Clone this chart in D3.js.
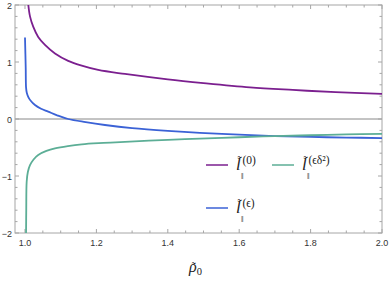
<!DOCTYPE html>
<html>
<head>
<meta charset="utf-8">
<script src="https://cdn.jsdelivr.net/npm/d3@7"></script>
<style>
  body { margin: 0; background: #fff; }
  .tick-label { font-family: "Liberation Sans", Arial, sans-serif; font-size: 9px; fill: #333; }
  .math { font-family: "Liberation Serif", "Times New Roman", serif; fill: #222; }
</style>
</head>
<body>
<div id="chart"></div>
<script>
// data
const rho0 = [1.0093, 1.014, 1.023, 1.037, 1.056, 1.084, 1.121, 1.159, 1.205, 1.28, 1.4, 1.5, 1.63, 1.75, 1.87, 2.0];
const l0   = [2.0, 1.80, 1.62, 1.44, 1.30, 1.15, 1.02, 0.935, 0.86, 0.79, 0.695, 0.63, 0.556, 0.51, 0.47, 0.44];

const rhoEps = [1.0, 1.002, 1.003, 1.005, 1.009, 1.016, 1.028, 1.045, 1.065, 1.09, 1.121, 1.17, 1.224, 1.3, 1.4, 1.49, 1.6, 1.7, 1.8, 1.9, 2.0];
const lEps   = [1.43, 0.9, 0.55, 0.46, 0.39, 0.32, 0.245, 0.18, 0.13, 0.065, 0.0, -0.055, -0.105, -0.16, -0.21, -0.245, -0.275, -0.30, -0.315, -0.325, -0.335];

const rhoEd2 = [1.003, 1.0035, 1.0047, 1.008, 1.014, 1.024, 1.037, 1.06, 1.084, 1.12, 1.159, 1.22, 1.28, 1.4, 1.49, 1.6, 1.7, 1.8, 1.9, 2.0];
const lEd2   = [-2.0, -1.6, -1.10, -0.93, -0.81, -0.71, -0.63, -0.56, -0.515, -0.475, -0.445, -0.42, -0.40, -0.365, -0.345, -0.32, -0.30, -0.285, -0.27, -0.26];

const xTicks = [1.0, 1.2, 1.4, 1.6, 1.8, 2.0];
const yTicks = [-2, -1, 0, 1, 2];

const width = 390, height = 281;
const m = { left: 15, right: 382, top: 5, bottom: 233 };

const svg = d3.select('#chart').append('svg')
  .attr('width', width)
  .attr('height', height);

const x = d3.scaleLinear().domain([0.972, 2.0]).range([m.left, m.right]);
const y = d3.scaleLinear().domain([-2, 2]).range([m.bottom, m.top]);

svg.append('clipPath').attr('id', 'clip')
  .append('rect')
  .attr('x', m.left).attr('y', m.top)
  .attr('width', m.right - m.left).attr('height', m.bottom - m.top);

// zero line
svg.append('line')
  .attr('x1', m.left).attr('x2', m.right)
  .attr('y1', y(0)).attr('y2', y(0))
  .attr('stroke', '#888').attr('stroke-width', 1);

// frame
svg.append('rect')
  .attr('x', m.left).attr('y', m.top)
  .attr('width', m.right - m.left).attr('height', m.bottom - m.top)
  .attr('fill', 'none').attr('stroke', '#a6a6a6').attr('stroke-width', 1);

const tickCol = '#a6a6a6';
const xMinor = d3.range(1.0, 2.0001, 0.05);
const yMinor = d3.range(-2, 2.0001, 0.2);

// x ticks, bottom and top, pointing inward
svg.append('g').selectAll('line').data(xMinor).join('line')
  .attr('x1', d => x(d)).attr('x2', d => x(d))
  .attr('y1', m.bottom).attr('y2', (d, i) => m.bottom - (i % 4 === 0 ? 4 : 2.5))
  .attr('stroke', tickCol);
svg.append('g').selectAll('line').data(xMinor).join('line')
  .attr('x1', d => x(d)).attr('x2', d => x(d))
  .attr('y1', m.top).attr('y2', (d, i) => m.top + (i % 4 === 0 ? 4 : 2.5))
  .attr('stroke', tickCol);

// y ticks, left and right
svg.append('g').selectAll('line').data(yMinor).join('line')
  .attr('y1', d => y(d)).attr('y2', d => y(d))
  .attr('x1', m.left).attr('x2', (d, i) => m.left + (i % 5 === 0 ? 4 : 2.5))
  .attr('stroke', tickCol);
svg.append('g').selectAll('line').data(yMinor).join('line')
  .attr('y1', d => y(d)).attr('y2', d => y(d))
  .attr('x1', m.right).attr('x2', (d, i) => m.right - (i % 5 === 0 ? 4 : 2.5))
  .attr('stroke', tickCol);

// tick labels
svg.append('g').selectAll('text').data(xTicks).join('text')
  .attr('class', 'tick-label')
  .attr('x', d => x(d)).attr('y', m.bottom + 13)
  .attr('text-anchor', 'middle')
  .text(d => d.toFixed(1));
svg.append('g').selectAll('text').data(yTicks).join('text')
  .attr('class', 'tick-label')
  .attr('x', m.left - 3).attr('y', d => y(d) + 3.5)
  .attr('text-anchor', 'end')
  .text(d => d < 0 ? '\u2212' + Math.abs(d) : d);

// curves
const line = d3.line()
  .x(d => x(d[0]))
  .y(d => y(d[1]))
  .curve(d3.curveCatmullRom.alpha(0.5));

const series = [
  { xs: rho0, ys: l0, color: '#7b1f8f' },
  { xs: rhoEps, ys: lEps, color: '#3b62d6' },
  { xs: rhoEd2, ys: lEd2, color: '#5cae96' }
];

const plot = svg.append('g').attr('clip-path', 'url(#clip)');
series.forEach(s => {
  plot.append('path')
    .datum(s.xs.map((v, i) => [v, s.ys[i]]))
    .attr('fill', 'none')
    .attr('stroke', s.color)
    .attr('stroke-width', 1.8)
    .attr('d', line);
});

// legend: l with tilde, superscript, parallel subscript (one text each)
function legendLabel(g, lx, ly, sup) {
  const t = g.append('text').attr('class', 'math')
    .attr('x', lx).attr('y', ly).attr('font-size', 17);
  t.append('tspan').attr('font-style', 'italic').text('l');
  t.append('tspan').attr('font-size', 13).attr('dx', -3.2).attr('dy', -5).text('\u02dc');
  t.append('tspan').attr('font-size', 11.5).attr('dx', 0.5).attr('dy', -1).text(sup);
  t.append('tspan').attr('font-size', 9).attr('x', lx + 5).attr('y', ly + 9).text('\u2016');
}

const legend = svg.append('g');
const items = [
  { lx: 206, ly: 165, color: '#7b1f8f', sup: '(0)' },
  { lx: 272, ly: 165, color: '#5cae96', sup: '(\u03f5\u03b4\u00b2)' },
  { lx: 206, ly: 208, color: '#3b62d6', sup: '(\u03f5)' }
];
items.forEach(it => {
  legend.append('line')
    .attr('x1', it.lx).attr('x2', it.lx + 22)
    .attr('y1', it.ly).attr('y2', it.ly)
    .attr('stroke', it.color).attr('stroke-width', 1.5);
  legendLabel(legend, it.lx + 30, it.ly + 4.5, it.sup);
});

// axis label
const xl = svg.append('text').attr('class', 'math')
  .attr('x', 189).attr('y', 272).attr('font-size', 16);
xl.append('tspan').attr('font-style', 'italic').text('\u03c1');
xl.append('tspan').attr('font-size', 12).attr('dx', -5).attr('dy', -1).text('\u02dc');
xl.append('tspan').attr('font-size', 10.5).attr('dx', 1).attr('dy', 4).text('0');
</script>
</body>
</html>
